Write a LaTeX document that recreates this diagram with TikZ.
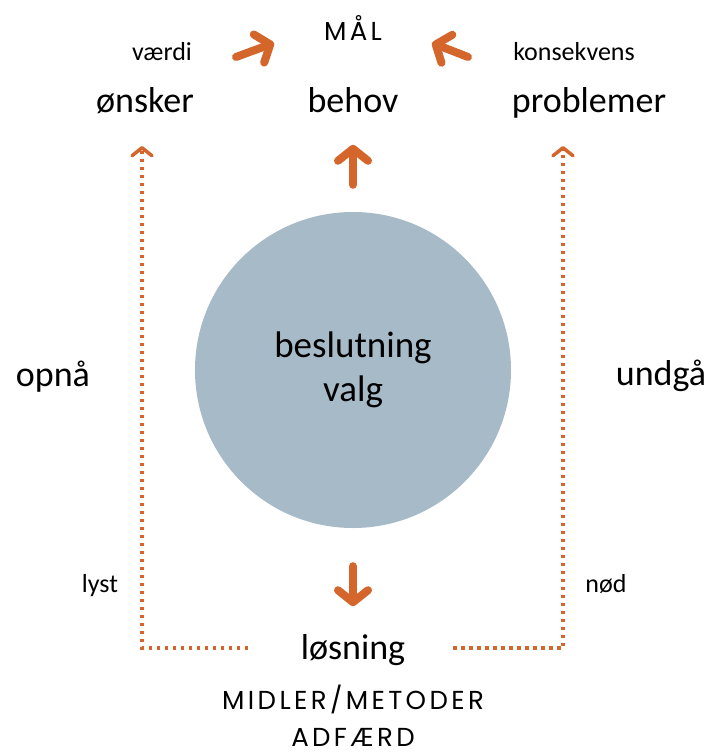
\documentclass[tikz,border=0pt]{standalone}
\usepackage{fontspec}
\setmainfont{Carlito}
\newfontfamily\capsfont[LetterSpace=13]{Poppins}
\usetikzlibrary{arrows.meta}
\definecolor{accent}{HTML}{D4652B}
\definecolor{disc}{HTML}{A6BAC7}

\begin{document}
\begin{tikzpicture}
	[x=1pt, y=-1pt,
	big_word/.style={anchor=base, inner sep=0pt, font=\fontsize{36}{44}\selectfont},
	small_word/.style={anchor=base, inner sep=0pt, font=\fontsize{26}{30}\selectfont},
	caps_word/.style={anchor=base, inner sep=0pt, align=center, font=\capsfont\fontsize{26}{37}\selectfont},
	disc_style/.style={circle, fill=disc, minimum size=316pt, inner sep=0pt, align=center,
		font=\fontsize{37}{44}\selectfont},
	thick_arrow/.style={draw=accent, line width=8pt, line cap=round,
		-{Straight Barb[length=12pt, width=30pt, round]}},
	dot_arrow/.style={draw=accent, line width=3.5pt, dash pattern=on 3.5pt off 4.5pt,
		-{Straight Barb[length=8pt, width=20pt, round]}}]
	\useasboundingbox (0,0) rectangle (713,755);

	\node[disc_style] (choice) at (353,370) {beslutning\\valg};

	\node[caps_word] (mal) at (353,40) {MÅL};
	\node[small_word] (vaerdi) at (162,60) {værdi};
	\node[small_word] (konsekvens) at (574,60) {konsekvens};
	\node[big_word] (onsker) at (145,112) {ønsker};
	\node[big_word] (behov) at (353,112) {behov};
	\node[big_word] (problemer) at (589,112) {problemer};
	\node[big_word] (opna) at (53,386) {opnå};
	\node[big_word] (undga) at (661,385) {undgå};
	\node[small_word] (lyst) at (100,592) {lyst};
	\node[small_word] (nod) at (606,592) {nød};
	\node[big_word] (losning) at (353,659) {løsning};
	\node[caps_word] (midler) at (353,746) {MIDLER/METODER\\ADFÆRD};

	% orange arrows towards the goal
	\coordinate (left_tail) at (236,57);
	\coordinate (left_tip) at (274,43);
	\coordinate (right_tail) at (468,57);
	\coordinate (right_tip) at (432,43);
	\draw[thick_arrow] (left_tail) -- (left_tip);
	\draw[thick_arrow] (right_tail) -- (right_tip);
	\draw[thick_arrow] (choice.north) ++(0,-27) -- ++(0,-40);
	\draw[thick_arrow] (choice.south) ++(0,38) -- ++(0,40);

	% dotted paths back up
	\coordinate (lyst_from) at (248,648);
	\coordinate (lyst_to) at (142,146);
	\coordinate (nod_from) at (453,648);
	\coordinate (nod_to) at (563,146);
	\draw[dot_arrow] (lyst_from) -| (lyst_to);
	\draw[dot_arrow] (nod_from) -| (nod_to);
\end{tikzpicture}
\end{document}
